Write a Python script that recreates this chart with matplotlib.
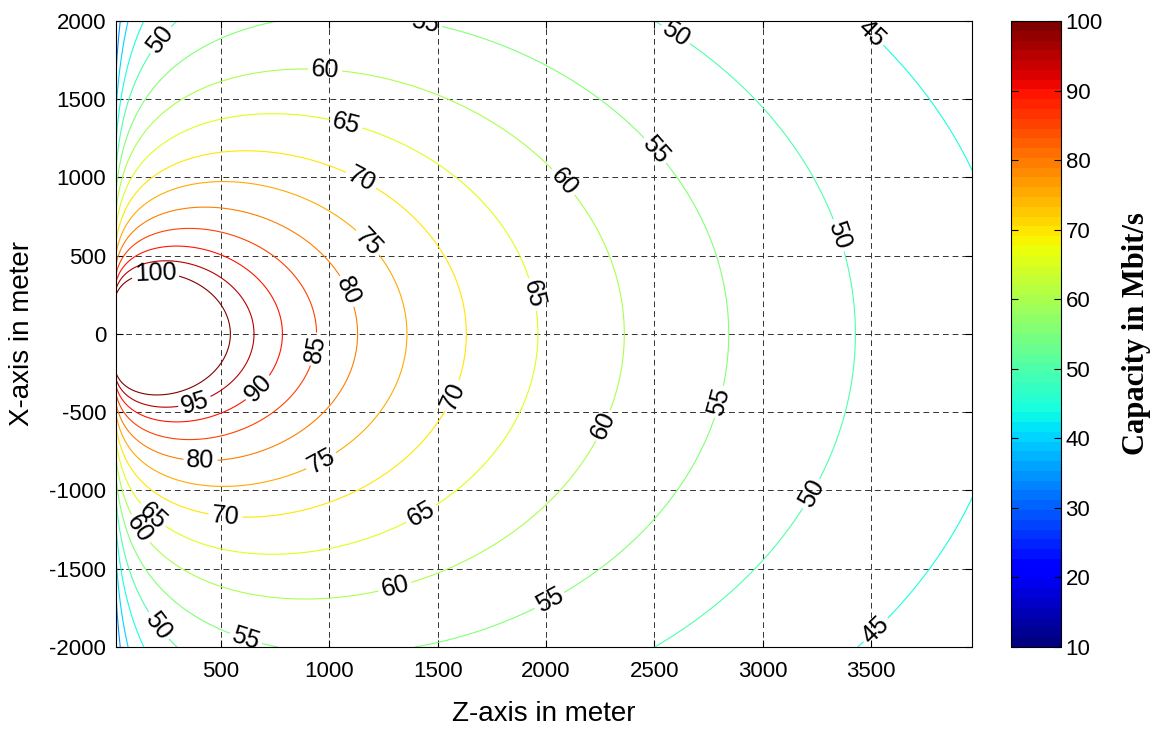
import numpy as np
import matplotlib.pyplot as plt
from matplotlib.colors import Normalize
from matplotlib.cm import ScalarMappable

plt.rcParams['font.family'] = ['Liberation Sans', 'DejaVu Sans']
plt.rcParams['axes.unicode_minus'] = False

# link model: capacity on the axis falls ~19 Mbit/s
# per doubling of distance, and 100 Mbit/s is reached at about 543 m
bandwidth_mhz = 9.47
ref_capacity = 100.0
ref_distance = 543.0
pattern_exp = 0.55

levels = [10, 15, 20, 25, 30, 35, 40, 45, 50, 55, 60, 65, 70, 75, 80, 85, 90, 95, 100]
cbar_ticks = [10, 20, 30, 40, 50, 60, 70, 80, 90, 100]
z_ticks = [500, 1000, 1500, 2000, 2500, 3000, 3500]
x_ticks = [-2000, -1500, -1000, -500, 0, 500, 1000, 1500, 2000]

# where the contour labels sit in the reference (z, x)
label_pos = [(1442, 1976), (220, 1880), (980, 1688), (1073, 1323), (1142, 972),
             (1165, 569), (1073, 268), (950, -102), (690, -371), (382, -454),
             (197, 377), (405, -825), (968, -825), (520, -1170), (151, -1221),
             (1418, -1138), (1581, -403), (1927, 249), (2065, 953), (2480, 1145),
             (2582, 1880), (3450, 1848), (3288, 601), (2766, -422), (2259, -582),
             (1304, -1624), (2010, -1688), (3210, -1010), (3486, -1841),
             (612, -1957), (183, -1893), (190, -1150)]

z = np.linspace(1, 3970, 600)
x = np.linspace(-2000, 2000, 501)
Z, X = np.meshgrid(z, x)
d = np.sqrt(Z**2 + X**2)
snr0 = 2 ** (ref_capacity / bandwidth_mhz) - 1
snr = snr0 * (ref_distance / d) ** 2 * (Z / d) ** pattern_exp
C = bandwidth_mhz * np.log2(1 + snr)

fig = plt.figure(figsize=(11.62, 7.29), dpi=100)
ax = fig.add_axes([0.0998, 0.1125, 0.7367, 0.8587])
cmap = plt.get_cmap('jet', 64)
norm = Normalize(10, 100)

cs = ax.contour(Z, X, C, levels=levels, cmap=cmap, norm=norm, linewidths=0.8)
ax.clabel(cs, fmt='%d', fontsize=18, colors='k', manual=label_pos,
          inline=True, inline_spacing=3)

ax.set_xlim(15, 3966)
ax.set_ylim(-2000, 2000)
ax.set_xticks(z_ticks)
ax.set_yticks(x_ticks)
ax.tick_params(direction='in', top=True, right=True, labelsize=16, length=5)
ax.tick_params(axis='x', pad=10)
ax.tick_params(axis='y', pad=7)
ax.grid(True, color='0.2', linestyle=(0, (6, 4)), linewidth=0.7)
ax.set_xlabel('Z-axis in meter', fontsize=20, labelpad=14)
ax.set_ylabel('X-axis in meter', fontsize=20, labelpad=10)

cax = fig.add_axes([0.8698, 0.1125, 0.043, 0.8587])
cb = fig.colorbar(ScalarMappable(norm=norm, cmap=cmap), cax=cax, ticks=cbar_ticks)
cb.outline.set_linewidth(0.8)
cax.tick_params(direction='in', left=True, right=True, labelsize=16, length=5)
cb.set_label('Capacity in Mbit/s', family=['Liberation Serif'], weight='bold',
             fontsize=22, labelpad=14)

fig.savefig('out.png', dpi=100)
